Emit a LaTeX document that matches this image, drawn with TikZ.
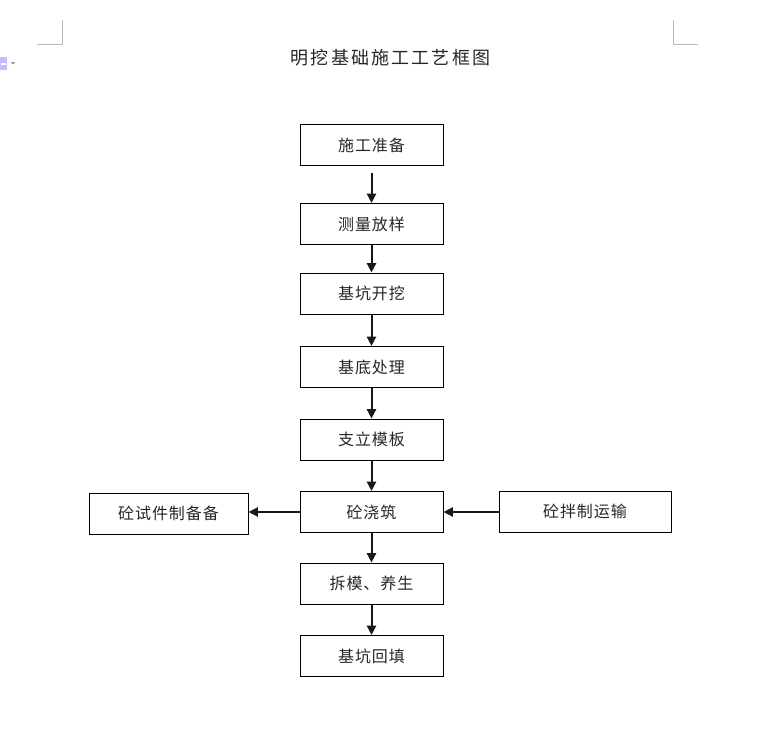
\documentclass[tikz,border=0pt]{standalone}
\usepackage{fontspec}
\newfontfamily\cjk[LetterSpace=6]{Noto Sans CJK SC}
\newfontfamily\cjktitle[LetterSpace=12]{Noto Sans CJK SC}
\usetikzlibrary{arrows.meta}
\begin{document}
\begin{tikzpicture}[x=0.75pt,y=-0.75pt,
  stepbox/.style={draw=black,line width=0.75pt,minimum width=143*0.75pt,minimum height=41*0.75pt,inner sep=0pt,
    font=\cjk\fontsize{12pt}{14pt}\selectfont,text=black!85},
  flow/.style={line width=1.5pt,black!90,-{Triangle[length=7pt,width=6.8pt]}},
  cornermark/.style={draw=black!28,line width=0.75pt}]
\useasboundingbox (0,0) rectangle (779,751);
% page corner marks
\draw[cornermark] (62,20) -- (62,44) -- (37,44);
\draw[cornermark] (673,20) -- (673,44) -- (698,44);
% small toolbar icon
\fill[blue!25!white] (0,57) rectangle (7,70);
\fill[white] (1.5,63) rectangle (5.5,65);
\fill[black!45] (11,62) -- (15,62) -- (13,64.5) -- cycle;
% title
\node[font=\cjktitle\fontsize{13.5pt}{16pt}\selectfont,text=black!85] (title) at (390.5,58) {明挖基础施工工艺框图};
% main column
\node[stepbox] (s1) at (371.5,145) {施工准备};
\node[stepbox] (s2) at (371.5,224) {测量放样};
\node[stepbox] (s3) at (371.5,293.5) {基坑开挖};
\node[stepbox] (s4) at (371.5,367) {基底处理};
\node[stepbox] (s5) at (371.5,439.5) {支立模板};
\node[stepbox] (s6) at (371.5,512) {砼浇筑};
\node[stepbox] (s7) at (371.5,583.5) {拆模、养生};
\node[stepbox] (s8) at (371.5,656) {基坑回填};
% side boxes
\node[stepbox,minimum width=159*0.75pt] (left) at (168.5,513.5) {砼试件制备备};
\node[stepbox,minimum width=172*0.75pt] (right) at (585,511.5) {砼拌制运输};
% connectors
\draw[flow,shorten <=7*0.75pt] (s1) -- (s2);
\draw[flow] (s2) -- (s3);
\draw[flow] (s3) -- (s4);
\draw[flow] (s4) -- (s5);
\draw[flow] (s5) -- (s6);
\draw[flow] (s6) -- (s7);
\draw[flow] (s7) -- (s8);
\draw[flow] (s6.west) -- (s6.west -| left.east);
\draw[flow] (s6.east -| right.west) -- (s6.east);
\end{tikzpicture}
\end{document}
